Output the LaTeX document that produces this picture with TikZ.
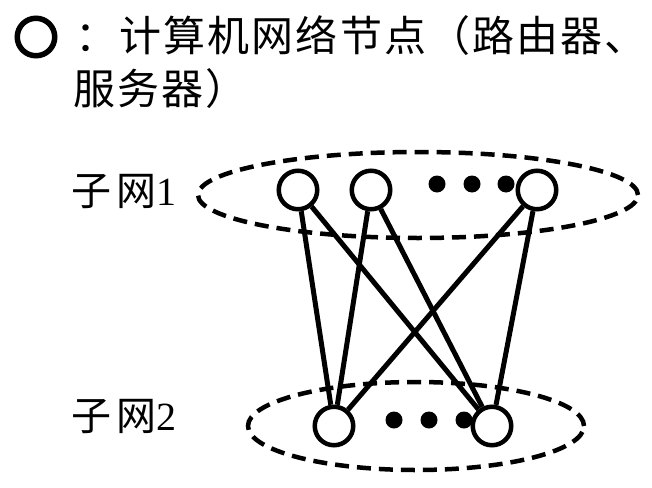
\documentclass[tikz,border=0pt]{standalone}
\usepackage{fontspec}
\newfontfamily\cjkwide{Noto Sans CJK SC}[LetterSpace=5]
\newfontfamily\cjklabel{Noto Sans CJK SC}[LetterSpace=12]
\newfontfamily\digitfont{Liberation Serif}
\tikzset{
  netnode/.style={circle, draw, line width=4.5pt, fill=white, minimum size=38.5pt, inner sep=0pt},
  netdot/.style={circle, fill, minimum size=17pt, inner sep=0pt},
  subnet/.style={line width=4.5pt, dash pattern=on 14pt off 8pt},
  link/.style={line width=5pt}
}

\begin{document}
\begin{tikzpicture}[x=1pt, y=-1pt]
  \useasboundingbox (0, 0) rectangle (652, 487);
  % legend
  \node[circle, draw, line width=5.5pt, minimum size=37.5pt, inner sep=0pt] (key) at (36, 37) {};
  \node[anchor=base west, font=\fontsize{42}{50}\cjkwide] (keyline1) at (72, 52) {：计算机网络节点（路由器、};
  \node[anchor=base west, font=\fontsize{42}{50}\cjkwide] (keyline2) at (70, 104) {服务器）};
  % subnets
  \draw[subnet] (418, 195) ellipse [x radius=220pt, y radius=43pt];
  \draw[subnet] (416, 426) ellipse [x radius=168pt, y radius=44pt];
  \node[anchor=base west, font=\fontsize{40}{48}\cjklabel] (sub1) at (68, 205) {子网{\digitfont 1}};
  \node[anchor=base west, font=\fontsize{40}{48}\cjklabel] (sub2) at (68, 430) {子网{\digitfont 2}};
  % dots
  \node[netdot] (d1) at (437, 184) {};
  \node[netdot] (d2) at (472, 184) {};
  \node[netdot] (d3) at (506, 184) {};
  \node[netdot] (d4) at (394, 420) {};
  \node[netdot] (d5) at (429, 420) {};
  \node[netdot] (d6) at (464, 420) {};
  % nodes
  \node[netnode] (t1) at (298, 190) {};
  \node[netnode] (t2) at (371, 190) {};
  \node[netnode] (t3) at (537, 190) {};
  \node[netnode] (b1) at (334, 426) {};
  \node[netnode] (b2) at (492, 426) {};
  \foreach \top in {t1, t2, t3}
    \foreach \bot in {b1, b2}
      \draw[link] (\top) -- (\bot);
\end{tikzpicture}
\end{document}
